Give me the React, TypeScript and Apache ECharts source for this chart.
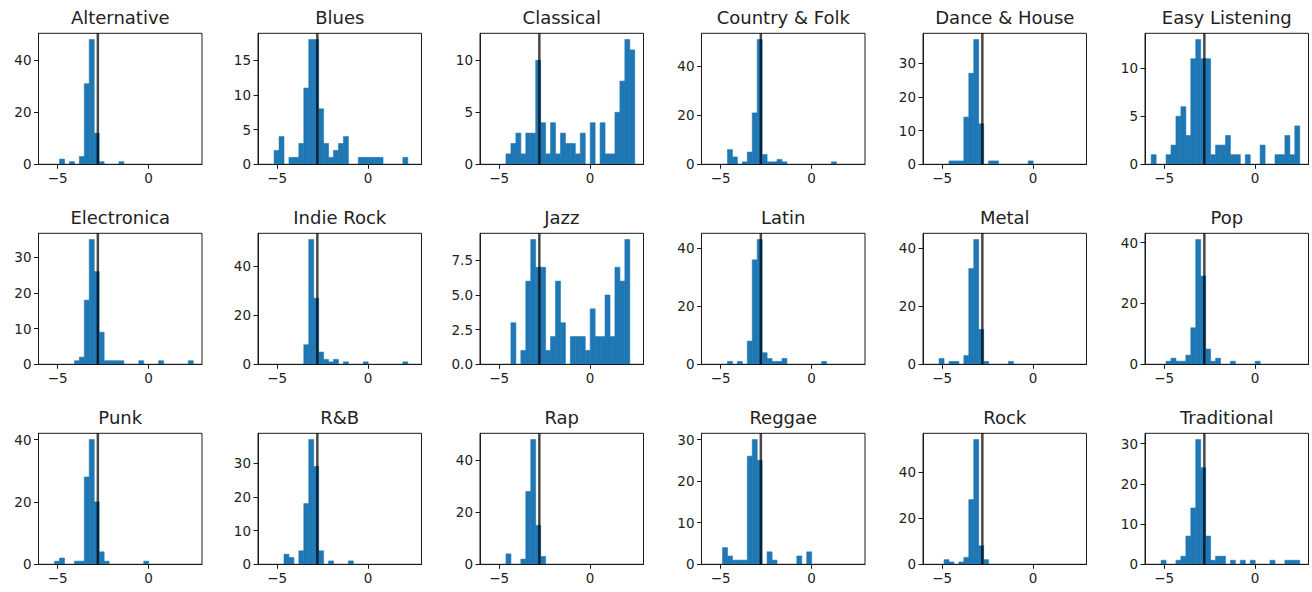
import React, { useEffect, useRef } from "react";
import * as echarts from "echarts";

// ---- data ----
const GENRES = [
  "Alternative", "Blues", "Classical", "Country & Folk", "Dance & House", "Easy Listening",
  "Electronica", "Indie Rock", "Jazz", "Latin", "Metal", "Pop",
  "Punk", "R&B", "Rap", "Reggae", "Rock", "Traditional",
];

// histogram counts per bin (30 shared bins)
const ALTERNATIVE = [0,0,0,2,0,1,0,3,31,48,12,1,0,0,0,1,0,0,0,0,0,0,0,0,0,0,0,0,0,0];
const BLUES = [0,0,2,4,0,1,1,3,11,18,18,8,3,1,2,3,4,0,0,1,1,1,1,1,0,0,0,0,1,0];
const CLASSICAL = [0,0,0,0,1,2,3,1,3,3,10,4,1,4,1,3,2,2,1,3,0,4,0,4,1,1,5,8,12,11];
const COUNTRY_FOLK = [0,0,0,0,6,3,0,1,5,21,51,4,1,1,2,1,0,0,0,0,0,0,0,0,0,1,0,0,0,0];
const DANCE_HOUSE = [0,0,0,0,1,1,1,14,27,37,12,0,1,1,0,0,0,0,0,0,1,0,0,0,0,0,0,0,0,0];
const EASY_LISTENING = [1,0,0,1,2,5,6,3,11,13,11,11,1,2,2,3,1,1,0,1,0,0,2,0,0,1,1,3,1,4];
const ELECTRONICA = [0,0,0,0,0,0,1,2,18,35,26,9,1,1,1,1,0,0,0,1,0,0,0,1,0,0,0,0,0,1];
const INDIE_ROCK = [0,0,0,0,0,0,0,0,8,51,27,5,2,1,2,0,1,0,0,0,1,0,0,0,0,0,0,0,1,0];
const JAZZ = [0,0,0,0,0,3,0,1,6,9,7,7,1,2,6,3,0,2,2,2,1,4,2,2,5,2,7,6,9,0];
const LATIN = [0,0,0,0,1,0,1,0,8,36,43,4,2,1,1,2,0,0,0,0,0,0,0,1,0,0,0,0,0,0];
const METAL = [0,0,2,0,1,1,0,3,33,43,12,1,0,0,0,0,1,0,0,0,0,0,0,0,0,0,0,0,0,0];
const POP = [0,0,0,1,2,1,1,3,12,41,29,5,1,2,0,0,1,0,0,0,0,1,0,0,0,0,0,0,0,0];
const PUNK = [0,0,1,2,0,0,1,1,28,40,20,4,1,0,0,0,0,0,0,0,1,0,0,0,0,0,0,0,0,0];
const RNB = [0,0,0,0,3,2,0,4,18,37,29,4,0,1,0,0,0,1,0,0,0,0,0,0,0,0,0,0,0,0];
const RAP = [0,0,0,0,4,0,0,2,28,48,15,3,0,0,0,0,0,0,0,0,0,0,0,0,0,0,0,0,0,0];
const REGGAE = [0,0,0,4,2,1,1,1,26,30,25,0,3,1,0,0,0,0,2,0,3,0,0,0,0,0,0,0,0,0];
const ROCK = [0,0,0,2,1,0,1,3,28,54,8,2,0,0,0,0,0,0,0,0,0,0,0,0,0,0,0,0,0,0];
const TRADITIONAL = [0,0,1,0,0,1,2,7,14,31,24,7,1,2,2,0,1,0,1,0,1,0,0,0,1,0,0,1,1,1];

const COUNTS = [
  ALTERNATIVE, BLUES, CLASSICAL, COUNTRY_FOLK, DANCE_HOUSE, EASY_LISTENING,
  ELECTRONICA, INDIE_ROCK, JAZZ, LATIN, METAL, POP,
  PUNK, RNB, RAP, REGGAE, ROCK, TRADITIONAL,
];

const Y_TICK_STEPS = [20, 5, 5, 20, 10, 5, 10, 20, 2.5, 20, 20, 20, 20, 10, 20, 10, 20, 10];
const X_TICK_VALUES = [-5, 0];
const BIN_START = -5.71;
const BIN_WIDTH = 0.272;
const REFERENCE_LINE = -2.79;
const X_MIN = -6.05;
const X_MAX = 2.93;

// ---- layout ----
const COL_LEFT = [38.5, 258, 480, 701.5, 923, 1145];
const ROW_TOP = [33.3, 233.3, 433.3];
const PANEL_W = 163.5;
const PANEL_H = 131;
const TEXT = "#222222";
const FONT = "DejaVu Sans";
const BAR = "#1f77b4";

const fmtX = (v: number) => (v < 0 ? "\u2212" + Math.abs(v) : String(v));

export default function App() {
  const ref = useRef<HTMLDivElement>(null);
  useEffect(() => {
    if (!ref.current) return;
    const chart = echarts.init(ref.current, undefined, { renderer: "svg" });
    const grids: any[] = [];
    const xAxes: any[] = [];
    const yAxes: any[] = [];
    const series: any[] = [];
    const graphics: any[] = [];

    GENRES.forEach((name, i) => {
      const r = Math.floor(i / 6);
      const c = i % 6;
      const counts = COUNTS[i];
      const ymax = Math.max(...counts) * 1.05;
      const step = Y_TICK_STEPS[i];
      const yTicks: number[] = [];
      for (let v = 0; v <= ymax + 1e-9; v += step) yTicks.push(v);
      const left = COL_LEFT[c];
      const top = ROW_TOP[r];

      grids.push({
        left, top, width: PANEL_W, height: PANEL_H,
        show: true, borderColor: "#1a1a1a", borderWidth: 1, backgroundColor: "transparent",
        containLabel: false,
      });
      xAxes.push({
        type: "value", gridIndex: i, min: X_MIN, max: X_MAX, z: 5,
        splitLine: { show: false },
        axisLine: { show: true, onZero: false, lineStyle: { color: "#1a1a1a", width: 1 } },
        axisTick: { show: true, length: 4.5, customValues: X_TICK_VALUES, lineStyle: { color: "#1a1a1a" } },
        axisLabel: {
          show: true, customValues: X_TICK_VALUES, formatter: fmtX, margin: 7,
          color: TEXT, fontSize: 13.5, fontFamily: FONT,
        },
      });
      yAxes.push({
        type: "value", gridIndex: i, min: 0, max: ymax, z: 5,
        splitLine: { show: false },
        axisLine: { show: true, onZero: false, lineStyle: { color: "#1a1a1a", width: 1 } },
        axisTick: { show: true, length: 4.5, customValues: yTicks, lineStyle: { color: "#1a1a1a" } },
        axisLabel: {
          show: true, customValues: yTicks, margin: 7,
          formatter: (v: number) => (step % 1 !== 0 ? v.toFixed(1) : String(v)),
          color: TEXT, fontSize: 13.5, fontFamily: FONT,
        },
      });
      const data: number[][] = [];
      counts.forEach((n, k) => {
        if (n > 0) data.push([BIN_START + k * BIN_WIDTH, BIN_START + (k + 1) * BIN_WIDTH, n]);
      });
      series.push({
        type: "custom", xAxisIndex: i, yAxisIndex: i, z: 2,
        encode: { x: [0, 1], y: 2 },
        data,
        renderItem: (params: any, api: any) => {
          const p0 = api.coord([api.value(0), api.value(2)]);
          const p1 = api.coord([api.value(1), 0]);
          return {
            type: "rect",
            shape: { x: p0[0], y: p0[1], width: p1[0] - p0[0], height: p1[1] - p0[1] },
            style: { fill: BAR, stroke: BAR, lineWidth: 0.6 },
          };
        },
      });
      series.push({
        type: "line", xAxisIndex: i, yAxisIndex: i, z: 3,
        data: [[REFERENCE_LINE, 0], [REFERENCE_LINE, ymax]],
        showSymbol: false, symbol: "none",
        lineStyle: { color: "rgba(0,0,0,0.72)", width: 2.5 },
        silent: true,
      });
      graphics.push({
        type: "text",
        x: left + PANEL_W / 2,
        y: top - 7,
        style: {
          text: name, align: "center", verticalAlign: "bottom",
          fill: TEXT, font: `18px "${FONT}"`,
        },
      });
    });

    chart.setOption({
      animation: false,
      backgroundColor: "#ffffff",
      grid: grids,
      xAxis: xAxes,
      yAxis: yAxes,
      series,
      graphic: graphics,
    });
    return () => chart.dispose();
  }, []);

  return (
    <div
      ref={ref}
      style={{ position: "fixed", left: 0, top: 0, width: 1312, height: 592 }}
    />
  );
}
